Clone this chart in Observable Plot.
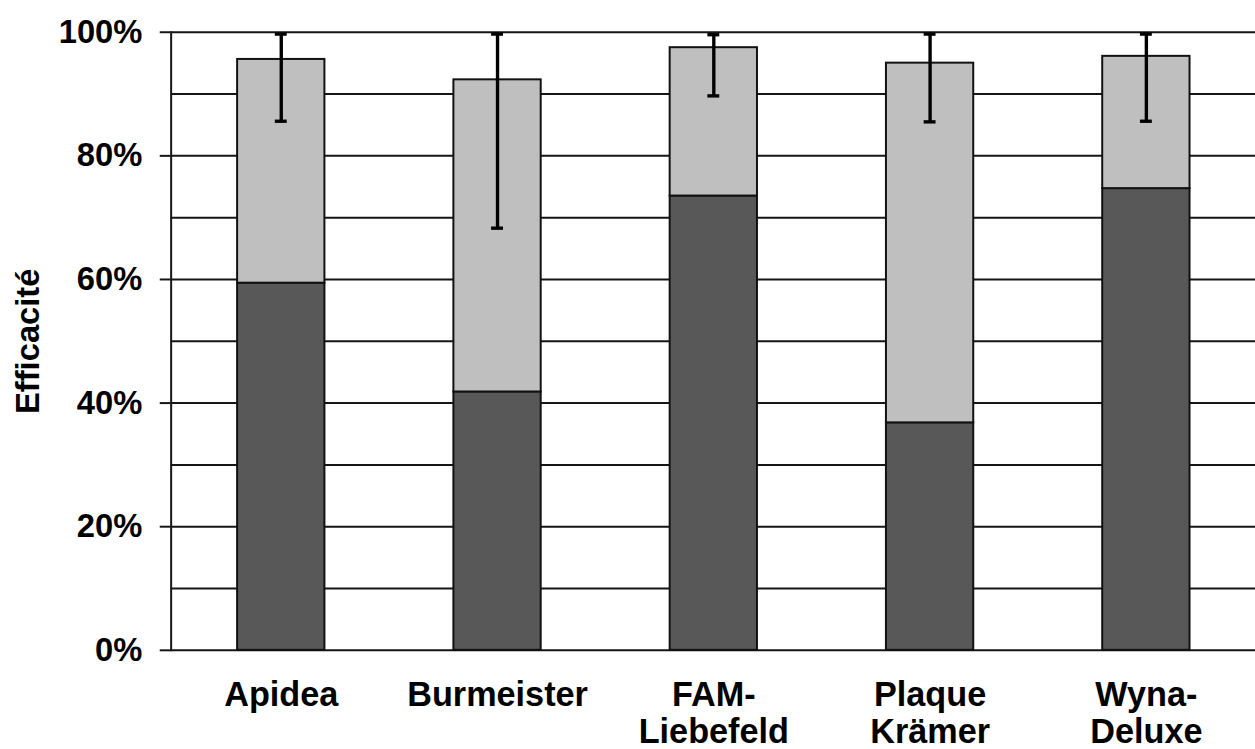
<!DOCTYPE html>
<html>
<head>
<meta charset="utf-8">
<script src="https://cdn.jsdelivr.net/npm/d3@7"></script>
<script src="https://cdn.jsdelivr.net/npm/@observablehq/plot@0.6"></script>
<style>
  html, body { margin: 0; padding: 0; background: #fff; overflow: hidden; }
  #chart { width: 1255px; height: 749px; overflow: hidden; }
</style>
</head>
<body>
<div id="chart"></div>
<script>
const categories = ["Apidea", "Burmeister", "FAM-\nLiebefeld", "Plaque\nKrämer", "Wyna-\nDeluxe"];
const darkValues = [0.594, 0.418, 0.735, 0.368, 0.747];
const totalValues = [0.956, 0.923, 0.975, 0.950, 0.961];
const errLow = [0.856, 0.683, 0.897, 0.855, 0.856];
const errHigh = [0.997, 0.997, 0.996, 0.997, 0.997];
const gridTicks = [0, 0.1, 0.2, 0.3, 0.4, 0.5, 0.6, 0.7, 0.8, 0.9, 1];
const labelTicks = [0, 0.2, 0.4, 0.6, 0.8, 1];
const yLabel = "Efficacité";

const rows = categories.map((c, i) => ({
  name: c, dark: darkValues[i], total: totalValues[i], lo: errLow[i], hi: errHigh[i]
}));

const font = "'Liberation Sans', Arial, sans-serif";

const chart = Plot.plot({
  width: 1265,
  height: 749,
  marginLeft: 172,
  marginRight: 0,
  marginTop: 32,
  marginBottom: 94,
  style: { fontFamily: font, background: "#fff", color: "#000", overflow: "visible" },
  x: { domain: categories, paddingInner: 0.597, paddingOuter: 0.2985, align: 0.5, label: null },
  y: { domain: [0, 1], label: null },
  marks: [
    Plot.ruleY(gridTicks, { stroke: "#161616", strokeWidth: 2 }),
    Plot.frame({ anchor: "left", stroke: "#161616", strokeWidth: 2 }),
    Plot.barY(rows, { x: "name", y1: 0, y2: "dark", fill: "#585858", stroke: "#111", strokeWidth: 2 }),
    Plot.barY(rows, { x: "name", y1: "dark", y2: "total", fill: "#bfbfbf", stroke: "#111", strokeWidth: 2 }),
    Plot.ruleX(rows, { x: "name", y1: "lo", y2: "hi", stroke: "#000", strokeWidth: 3.4 }),
    Plot.tickY(rows, { x: "name", y: "lo", stroke: "#000", strokeWidth: 3.4, insetLeft: 38, insetRight: 38 }),
    Plot.tickY(rows, { x: "name", y: "hi", stroke: "#000", strokeWidth: 3.4, insetLeft: 38, insetRight: 38 }),
    Plot.axisY({
      ticks: labelTicks, tickFormat: d3.format(".0%"), tickSize: 11, tickPadding: 18,
      stroke: "#161616", strokeWidth: 2, fontSize: 33, fontWeight: "bold", fill: "#000",
      label: null
    }),
    Plot.axisX({
      tickSize: 0, tickPadding: 30, fontSize: 34.5, fontWeight: "bold", fill: "#000",
      lineHeight: 1.08, label: null
    }),
    Plot.text([yLabel], {
      frameAnchor: "left", dx: -144, rotate: -90, text: d => d,
      fontSize: 33, fontWeight: "bold", fill: "#000", textAnchor: "middle"
    })
  ]
});
document.getElementById("chart").appendChild(chart);
</script>
</body>
</html>
